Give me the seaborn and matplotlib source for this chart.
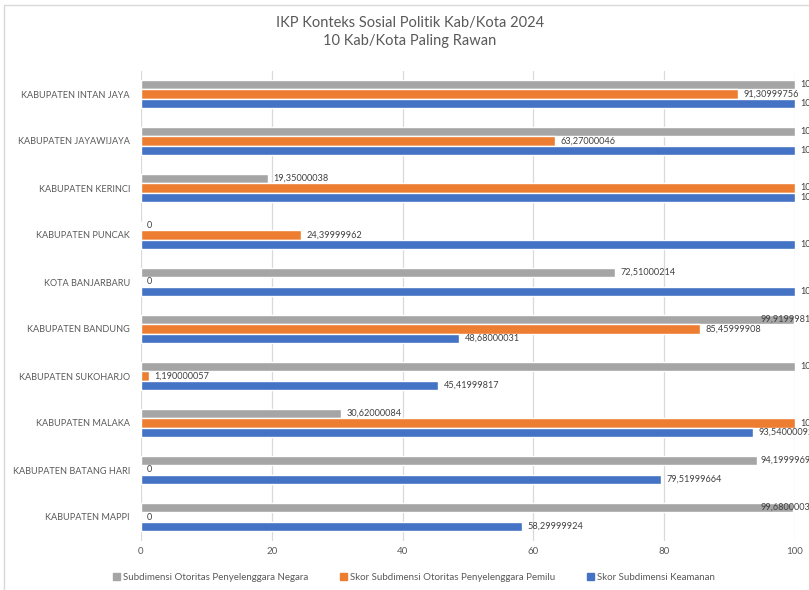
import numpy as np
import pandas as pd
import matplotlib
matplotlib.use("Agg")
import matplotlib.pyplot as plt
from matplotlib.patches import Rectangle
import seaborn as sns

# ---------------------------------------------------------
# Data
# ---------------------------------------------------------
wilayah = [
    "KABUPATEN INTAN JAYA", "KABUPATEN JAYAWIJAYA", "KABUPATEN KERINCI",
    "KABUPATEN PUNCAK", "KOTA BANJARBARU", "KABUPATEN BANDUNG",
    "KABUPATEN SUKOHARJO", "KABUPATEN MALAKA", "KABUPATEN BATANG HARI",
    "KABUPATEN MAPPI",
]
seri = [
    "Subdimensi Otoritas Penyelenggara Negara",
    "Skor Subdimensi Otoritas Penyelenggara Pemilu",
    "Skor Subdimensi Keamanan",
]
negara = [100, 100, 19.35000038, 0, 72.51000214, 99.91999817, 100, 30.62000084, 94.19999695, 99.68000031]
pemilu = [91.30999756, 63.27000046, 100, 24.39999962, 0, 85.45999908, 1.190000057, 100, 0, 0]
keamanan = [100, 100, 100, 100, 100, 48.68000031, 45.41999817, 93.54000092, 79.51999664, 58.29999924]
warna = ["#A5A5A5", "#ED7D31", "#4472C4"]
xticks = [0, 20, 40, 60, 80, 100]

df = pd.DataFrame({
    "wilayah": wilayah * 3,
    "seri": np.repeat(seri, len(wilayah)),
    "nilai": negara + pemilu + keamanan,
})

# ---------------------------------------------------------
# Plot
# ---------------------------------------------------------
sns.set_theme(style="white")
plt.rcParams["font.family"] = ["Lato", "DejaVu Sans"]

fig = plt.figure(figsize=(8.09, 5.90), dpi=100)
ax = fig.add_axes([141 / 809, 1 - 540.5 / 590, 654 / 809, 470 / 590])

sns.barplot(data=df, y="wilayah", x="nilai", hue="seri", order=wilayah,
            hue_order=seri, palette=warna, orient="h", width=0.6, gap=0,
            saturation=1, ax=ax, legend=False, errorbar=None)

ax.set_xlim(0, 100)
ax.set_xticks(xticks)
ax.set_xlabel("")
ax.set_ylabel("")
ax.grid(axis="x", color="#D9D9D9", linewidth=0.9)
ax.set_axisbelow(True)
for s in ax.spines.values():
    s.set_visible(False)
ax.tick_params(axis="x", length=0, pad=5, labelsize=7, labelcolor="#595959")
ax.tick_params(axis="y", length=0, pad=8, labelsize=6.6, labelcolor="#595959")

# label data
teks = []
for cont in ax.containers:
    for bar in cont:
        v = bar.get_width()
        lbl = f"{v:.10g}".replace(".", ",")
        t = ax.annotate(lbl, (v, bar.get_y() + bar.get_height() / 2),
                        xytext=(4, 0), textcoords="offset points",
                        ha="left", va="center", fontsize=6.6, color="#404040",
                        annotation_clip=False)
        teks.append(t)

# geser label yang melewati area chart (seperti Excel)
fig.canvas.draw()
rend = fig.canvas.get_renderer()
batas = 816
for t in teks:
    bb = t.get_window_extent(rend)
    if bb.x1 > batas:
        geser = (bb.x1 - batas) * 72 / fig.dpi
        ox, oy = t.xyann
        t.xyann = (ox - geser, oy)

fig.suptitle("IKP Konteks Sosial Politik Kab/Kota 2024\n10 Kab/Kota Paling Rawan",
             x=410 / 809, y=1 - 16 / 590, fontsize=10.5, color="#595959",
             linespacing=1.35, va="top")

handles = [plt.Rectangle((0, 0), 1, 1, color=c) for c in warna]
fig.legend(handles, seri, loc="center", bbox_to_anchor=(414 / 809, 1 - 577 / 590),
           ncol=3, frameon=False, fontsize=7, handlelength=0.7, handleheight=0.7,
           handletextpad=0.3, columnspacing=3.3, labelcolor="#595959")

# bingkai chart
fig.patches.append(Rectangle((4 / 809, -0.1), 1.2, 1.1 - 5 / 590, transform=fig.transFigure,
                             fill=False, edgecolor="#D9D9D9", linewidth=1))

fig.savefig("out.png", dpi=100)
